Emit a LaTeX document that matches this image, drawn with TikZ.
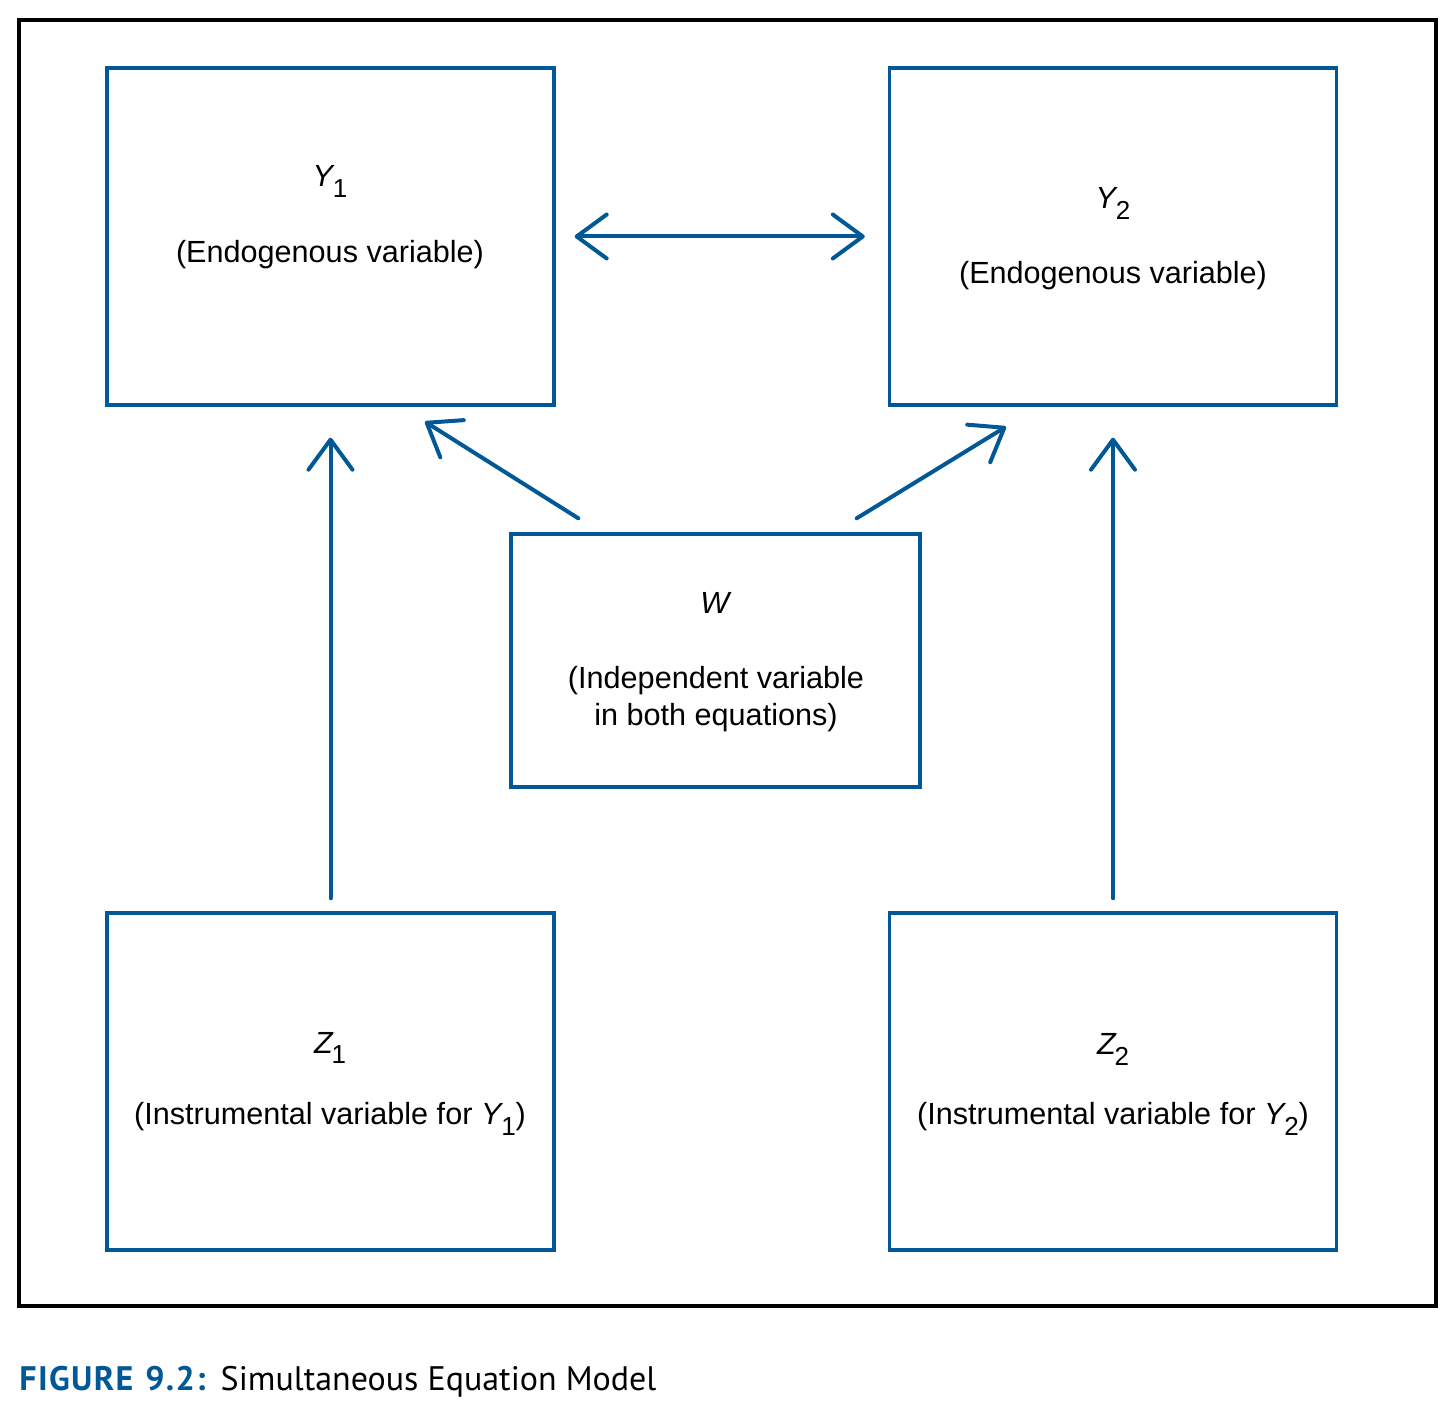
\documentclass[tikz,border=0pt]{standalone}
\usepackage{fontspec}
\setmainfont{Liberation Sans}
\newfontfamily\capfont{PT Sans}
\usetikzlibrary{arrows.meta}
\definecolor{figblue}{RGB}{0,88,150}
\newcommand{\vsub}[1]{\hspace{-1pt}\raisebox{-5.5pt}{\fontsize{13}{13}\selectfont #1}}
\tikzset{barb/.tip={Straight Barb[length=15pt, width=22pt, line cap=round, round]}}

\begin{document}
\begin{tikzpicture}[x=0.5pt,y=0.5pt,
    box/.style={draw=figblue, line width=1.7pt, inner sep=0pt,
      minimum width=223.5pt, minimum height=168.5pt},
    lab/.style={font=\fontsize{15.3}{18.5}\selectfont, align=center,
      inner sep=0pt, anchor=base},
    link/.style={draw=figblue, line width=2pt, line cap=round, -{barb}}]
  \useasboundingbox (0,0) rectangle (1450,1414);
  \draw[line width=1.6pt] (19,108) rectangle (1436,1394);

  % boxes
  \node[box] (y1) at (330.5,1177.5) {};
  \node[box] (y2) at (1113,1177.5) {};
  \node[box, minimum width=204.5pt, minimum height=126.5pt] (w) at (715.5,753.5) {};
  \node[box] (z1) at (330.5,332.5) {};
  \node[box] (z2) at (1113,332.5) {};

  % texts
  \node[lab] (y1name) at (330,1227) {\textit{Y}\vsub{1}};
  \node[lab] (y1text) at (330,1151) {(Endogenous variable)};
  \node[lab] (y2name) at (1113,1205) {\textit{Y}\vsub{2}};
  \node[lab] (y2text) at (1113,1130) {(Endogenous variable)};
  \node[lab] (wname) at (716,800) {\textit{W}};
  \node[lab] (wtext) at (716,688) {(Independent variable\\in both equations)};
  \node[lab] (z1name) at (330,361) {\textit{Z}\vsub{1}};
  \node[lab] (z1text) at (330,290) {(Instrumental variable for \textit{Y}\vsub{1})};
  \node[lab] (z2name) at (1113,359) {\textit{Z}\vsub{2}};
  \node[lab] (z2text) at (1113,290) {(Instrumental variable for \textit{Y}\vsub{2})};

  % arrows
  \draw[link, {barb}-{barb}, shorten <=9.5pt, shorten >=11.5pt] (y1.east) -- (y2.west);
  \draw[link, shorten <=6.5pt, shorten >=15.5pt] (z1.north) -- (y1.south);
  \draw[link, shorten <=6.5pt, shorten >=15.5pt] (z2.north) -- (y2.south);
  \draw[link] ([shift={(69,14)}]w.north west) -- ([shift={(94.5,-15)}]y1.south);
  \draw[link] ([shift={(-65,14)}]w.north east) -- ([shift={(-107,-20)}]y2.south);

  \node[anchor=base west, inner sep=0pt, font=\capfont\fontsize{17}{20}\selectfont] (caption)
    at (19,24) {\textcolor{figblue}{\bfseries\addfontfeature{LetterSpace=4}FIGURE\hspace{0.35em}9.2:}\hspace{0.45em}Simultaneous Equation Model};
\end{tikzpicture}
\end{document}
